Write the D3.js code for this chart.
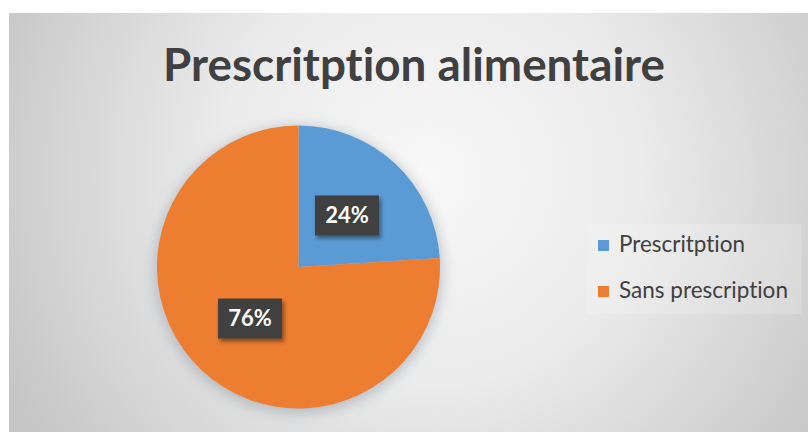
<!DOCTYPE html>
<html>
<head>
<meta charset="utf-8">
<script src="https://cdn.jsdelivr.net/npm/d3@7"></script>
<style>
  html, body { margin: 0; padding: 0; background: #ffffff; }
  svg { display: block; }
  text { font-variant-ligatures: none; font-feature-settings: "liga" 0, "clig" 0; }
</style>
</head>
<body>
<svg id="chart" width="808" height="432"></svg>
<script>
// Data
const categories = ["Prescritption", "Sans prescription"];
const values = [24, 76];
const sliceColors = ["#5b9bd5", "#ed7d31"];
const chartTitle = "Prescritption alimentaire";

const W = 808, H = 432;
const svg = d3.select("#chart");
const defs = svg.append("defs");

// Background radial gradient
const bg = defs.append("radialGradient")
  .attr("id", "bgGrad")
  .attr("gradientUnits", "userSpaceOnUse")
  .attr("cx", 430).attr("cy", 175).attr("r", 470);
bg.append("stop").attr("offset", "0").attr("stop-color", "#f8f8f8");
bg.append("stop").attr("offset", "0.45").attr("stop-color", "#ebebeb");
bg.append("stop").attr("offset", "1").attr("stop-color", "#c6c6c6");

// Soft shadow around the pie
const pieShadow = defs.append("filter").attr("id", "pieShadow")
  .attr("x", "-20%").attr("y", "-20%").attr("width", "140%").attr("height", "140%");
pieShadow.append("feGaussianBlur").attr("stdDeviation", 7);

// Shadow for the value callouts
const boxShadow = defs.append("filter").attr("id", "boxShadow")
  .attr("x", "-30%").attr("y", "-30%").attr("width", "160%").attr("height", "170%");
boxShadow.append("feDropShadow")
  .attr("dx", 2).attr("dy", 3).attr("stdDeviation", 2)
  .attr("flood-color", "#000").attr("flood-opacity", 0.45);

// Chart area
svg.append("rect")
  .attr("x", 9).attr("y", 13).attr("width", W - 9).attr("height", H - 13)
  .attr("fill", "url(#bgGrad)");

// Title
const title = svg.append("text")
  .attr("x", 414).attr("y", 81)
  .attr("text-anchor", "middle")
  .attr("font-family", "Lato, 'Open Sans', sans-serif")
  .attr("font-weight", 700)
  .attr("font-size", 40)
  .attr("fill", "#404040")
  .text(chartTitle);
// fit title to its drawn width
{
  const w = title.node().getComputedTextLength();
  title.attr("font-size", 40 * 502 / w);
}

// Pie
const cx = 298.5, cy = 267, R = 141.5;
const pie = d3.pie().sort(null).value(d => d.value);
const arcs = pie(categories.map((c, i) => ({ name: c, value: values[i], color: sliceColors[i] })));
const arc = d3.arc().innerRadius(0).outerRadius(R);
const labelArc = d3.arc().innerRadius(0).outerRadius(R);

const g = svg.append("g").attr("transform", `translate(${cx},${cy})`);

g.append("circle")
  .attr("cx", 0).attr("cy", 3).attr("r", R + 2)
  .attr("fill", "#8f9aa6").attr("opacity", 0.55)
  .attr("filter", "url(#pieShadow)");

g.selectAll("path.slice")
  .data(arcs)
  .join("path")
  .attr("class", "slice")
  .attr("d", arc)
  .attr("fill", d => d.data.color);

// Value callouts
const boxW = 64, boxH = 40;
const labels = g.selectAll("g.lbl")
  .data(arcs)
  .join("g")
  .attr("class", "lbl")
  .attr("transform", d => {
    const [x, y] = labelArc.centroid(d);
    return `translate(${x},${y})`;
  });

labels.append("rect")
  .attr("x", -boxW / 2).attr("y", -boxH / 2)
  .attr("width", boxW).attr("height", boxH)
  .attr("fill", "#404040")
  .attr("filter", "url(#boxShadow)");

labels.append("text")
  .attr("text-anchor", "middle")
  .attr("dy", "0.36em")
  .attr("font-family", "Lato, 'Open Sans', sans-serif")
  .attr("font-weight", 700)
  .attr("font-size", 22)
  .attr("fill", "#ffffff")
  .text(d => d.data.value + "%");

// Legend
const legend = svg.append("g");
legend.append("rect")
  .attr("x", 587).attr("y", 224).attr("width", 214).attr("height", 90)
  .attr("fill", "#ffffff").attr("opacity", 0.18);

const legendY = [252, 298];
const legendW = [126, 169];
const items = legend.selectAll("g.item")
  .data(categories)
  .join("g")
  .attr("class", "item")
  .attr("transform", (d, i) => `translate(598,${legendY[i]})`);

items.append("rect")
  .attr("x", 0).attr("y", -12).attr("width", 11).attr("height", 11)
  .attr("fill", (d, i) => sliceColors[i]);

items.append("text")
  .attr("x", 21).attr("y", 0)
  .attr("font-family", "Lato, 'Open Sans', sans-serif")
  .attr("font-size", 20)
  .attr("fill", "#404040")
  .text(d => d)
  .each(function(d, i) {
    const w = this.getComputedTextLength();
    d3.select(this).attr("font-size", 20 * legendW[i] / w);
  });
</script>
</body>
</html>
